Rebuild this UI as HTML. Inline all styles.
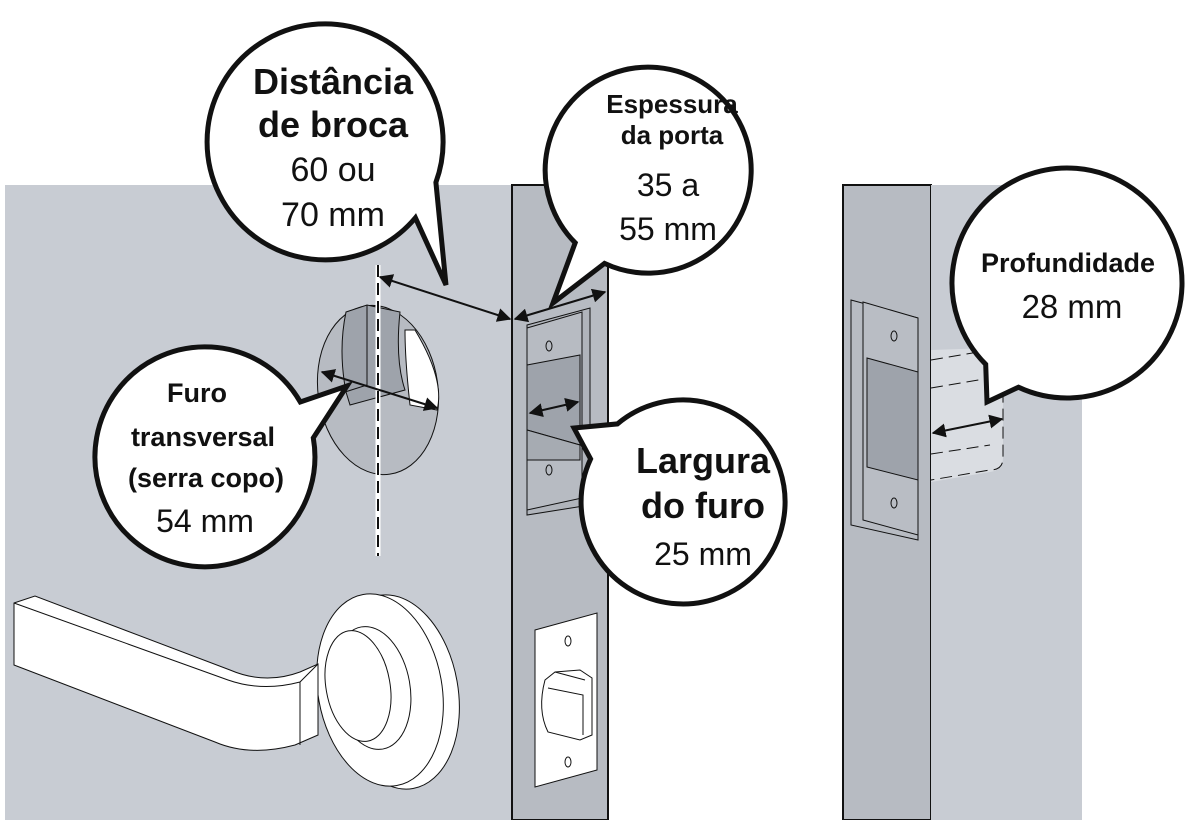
<!DOCTYPE html>
<html><head><meta charset="utf-8"><style>
html,body{margin:0;padding:0;background:#fff;}
svg{display:block;}
text{font-family:"Liberation Sans",sans-serif;fill:#111;}
</style></head><body>
<svg width="1192" height="820" viewBox="0 0 1192 820" xmlns="http://www.w3.org/2000/svg">
<defs>
<marker id="a" viewBox="0 0 10 10" refX="9" refY="5" markerWidth="7" markerHeight="7" orient="auto-start-reverse"><path d="M0,0 L10,5 L0,10 z" fill="#111"/></marker>
</defs>
<rect x="5" y="185" width="507" height="635" fill="#c8ccd3"/>
<rect x="512" y="185" width="96" height="635" fill="#b7bbc2" stroke="#111" stroke-width="2"/>
<rect x="843" y="185" width="88" height="635" fill="#b7bbc2" stroke="#111" stroke-width="2"/>
<rect x="931" y="185" width="151" height="635" fill="#c8ccd3"/>

<ellipse cx="378" cy="390" rx="60" ry="85" transform="rotate(-8 378 390)" fill="#b7bbc2" stroke="#111" stroke-width="1"/>
<path d="M415,330 Q445,380 437,410 L410,405 Q405,360 405,330 z" fill="#fff" stroke="#111" stroke-width="1"/>
<path d="M346,312 L367,305 L400,312 Q395,360 405,390 L350,405 L346,392 Q338,350 346,312z" fill="#9ea3ab" stroke="#111" stroke-width="1"/>
<path d="M367,305 L367,385 L345,392" fill="none" stroke="#111" stroke-width="1"/>
<line x1="378" y1="265" x2="378" y2="556" stroke="#fff" stroke-width="5"/>
<line x1="378" y1="265" x2="378" y2="556" stroke="#111" stroke-width="2" stroke-dasharray="12,6"/>
<line x1="322" y1="372" x2="437" y2="408" stroke="#111" stroke-width="2" marker-start="url(#a)" marker-end="url(#a)"/>

<path d="M527,325 L590,308 L590,505 L527,515 z" fill="#b0b4bb" stroke="#111" stroke-width="1"/>
<path d="M527,328 L582,312 L582,498 L527,510 z" fill="#b7bbc2" stroke="#111" stroke-width="1"/>
<path d="M527,365 L580,355 L580,445 L527,430 z" fill="#9ea3ab" stroke="#111" stroke-width="1"/>
<path d="M527,430 L580,445 L580,460 L527,460z" fill="#a6abb2" stroke="#111" stroke-width="1"/>
<ellipse cx="549" cy="346" rx="3" ry="5" fill="none" stroke="#111"/>
<ellipse cx="549" cy="470" rx="3" ry="5" fill="none" stroke="#111"/>
<line x1="530" y1="413" x2="578" y2="402" stroke="#111" stroke-width="2" marker-start="url(#a)" marker-end="url(#a)"/>
<line x1="380" y1="277" x2="510" y2="319" stroke="#111" stroke-width="2" marker-start="url(#a)" marker-end="url(#a)"/>
<line x1="515" y1="319" x2="605" y2="292" stroke="#111" stroke-width="2" marker-start="url(#a)" marker-end="url(#a)"/>

<path d="M535,630 L597,613 L597,770 L535,787 z" fill="#fff" stroke="#111" stroke-width="1"/>
<ellipse cx="568" cy="641" rx="3" ry="5" fill="none" stroke="#111"/>
<ellipse cx="568" cy="762" rx="3" ry="5" fill="none" stroke="#111"/>
<path d="M545,680 L555,672 L580,670 L592,678 L592,735 L580,740 L548,732 Q537,710 545,680z" fill="#fff" stroke="#111"/>
<path d="M548,688 L583,695 L583,735 M555,672 L585,680" fill="none" stroke="#111"/>

<path d="M851,300 L918,318 L918,540 L851,525 z" fill="#b7bbc2" stroke="#111" stroke-width="1"/>
<path d="M863,302 L918,318 L918,535 L863,520 z" fill="#b9bdc4" stroke="#111" stroke-width="1"/>
<path d="M867,358 L918,372 L918,480 L867,467 z" fill="#9ea3ab" stroke="#111" stroke-width="1"/>
<ellipse cx="894" cy="336" rx="3" ry="5" fill="none" stroke="#111"/>
<ellipse cx="894" cy="503" rx="3" ry="5" fill="none" stroke="#111"/>
<path d="M931,350 L990,348 Q1003,350 1003,362 L1003,458 Q1003,470 990,472 L931,482 z" fill="#dadde2"/>
<path d="M931,360 L990,350 Q1003,352 1003,362 L1003,458 Q1003,470 990,470 L931,480 M931,388 L990,378 M931,454 L990,445" fill="none" stroke="#111" stroke-dasharray="12,6"/>
<line x1="933" y1="433" x2="1002" y2="419" stroke="#111" stroke-width="2" marker-start="url(#a)" marker-end="url(#a)"/>

<ellipse cx="396" cy="692" rx="62" ry="98" transform="rotate(-10 396 692)" fill="#fff" stroke="#111"/>
<ellipse cx="380" cy="690" rx="62" ry="97" transform="rotate(-10 380 690)" fill="#fff" stroke="#111"/>
<ellipse cx="372" cy="688" rx="38" ry="62" transform="rotate(-10 372 688)" fill="#fff" stroke="#111"/>
<ellipse cx="358" cy="686" rx="32" ry="56" transform="rotate(-10 358 686)" fill="#fff" stroke="#111"/>
<path d="M14,603 L35,596 L230,670 Q265,685 300,672 L318,664 L318,735 L295,745 Q250,757 215,742 L14,665 z" fill="#fff" stroke="#111"/>
<path d="M14,603 L228,680 Q262,692 300,682 L318,664 M300,682 L300,745" fill="none" stroke="#111"/>

<g stroke="#111" stroke-width="5" fill="#fff" stroke-linejoin="miter">
<path d="M415.4,217.8 A118,118 0 1 1 435.9,182.4 L446,285 Z"/>
<path d="M575.2,242.8 A103,103 0 1 1 604.5,263.4 L553,303 Z"/>
<path d="M313.3,437.9 A110,110 0 1 1 300.3,402 L347,386 Z"/>
<path d="M617.4,423.9 A102,102 0 1 1 590.6,458.9 L574,428 Z"/>
<path d="M985.7,364.3 A115,115 0 1 1 1018.4,387.2 L987,402 Z"/>
</g>
<g text-anchor="middle">
<text x="333" y="94" font-size="36" font-weight="bold">Distância</text>
<text x="333" y="137" font-size="36" font-weight="bold">de broca</text>
<text x="333" y="181" font-size="34">60 ou</text>
<text x="333" y="226" font-size="34">70 mm</text>
<text x="672" y="113" font-size="26" font-weight="bold">Espessura</text>
<text x="672" y="144" font-size="26" font-weight="bold">da porta</text>
<text x="668" y="196" font-size="32">35 a</text>
<text x="668" y="240" font-size="32">55 mm</text>
<text x="1068" y="272" font-size="27" font-weight="bold">Profundidade</text>
<text x="1072" y="318" font-size="33">28 mm</text>
<text x="197" y="402" font-size="27" font-weight="bold">Furo</text>
<text x="203" y="446" font-size="27" font-weight="bold">transversal</text>
<text x="206" y="487" font-size="27" font-weight="bold">(serra copo)</text>
<text x="205" y="532" font-size="32">54 mm</text>
<text x="703" y="473" font-size="36" font-weight="bold">Largura</text>
<text x="703" y="518" font-size="36" font-weight="bold">do furo</text>
<text x="703" y="565" font-size="32">25 mm</text>
</g>
</svg>
</body></html>
